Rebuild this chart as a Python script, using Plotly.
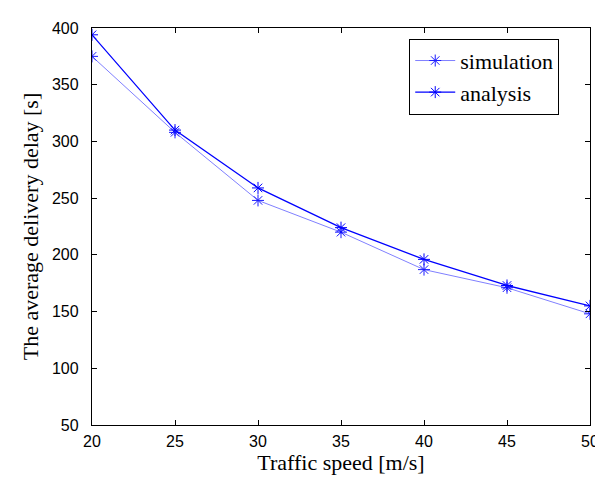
import plotly.graph_objects as go

speed = [20, 25, 30, 35, 40, 45, 50]
simulation = [375, 308, 248, 220, 187, 171, 148]
analysis = [394, 310, 259, 224, 196, 173, 155]

x_ticks = [20, 25, 30, 35, 40, 45, 50]
y_ticks = [50, 100, 150, 200, 250, 300, 350, 400]

fig = go.Figure()
fig.add_trace(go.Scatter(
    x=speed, y=simulation, name="simulation", mode="lines+markers",
    line=dict(color="#8080ff", width=1),
    marker=dict(symbol="asterisk-open", size=10, color="#1a1aff",
                line=dict(color="#1a1aff", width=1)),
))
fig.add_trace(go.Scatter(
    x=speed, y=analysis, name="analysis", mode="lines+markers",
    line=dict(color="#0000ff", width=1.3),
    marker=dict(symbol="asterisk-open", size=10, color="#0000ff",
                line=dict(color="#0000ff", width=1)),
))

axis_common = dict(
    showline=True, linecolor="black", linewidth=1.3, mirror="ticks",
    ticks="inside", ticklen=5, tickcolor="black", tickwidth=1,
    showgrid=False, zeroline=False,
    tickfont=dict(family="Liberation Sans, Arial", size=16, color="black"),
)

fig.update_layout(
    width=603, height=479,
    margin=dict(l=84, r=12, t=16, b=62),
    paper_bgcolor="white", plot_bgcolor="white",
    xaxis=dict(range=[20, 50], tickvals=x_ticks, ticklabelstandoff=2,
               title=dict(text="Traffic speed [m/s]", standoff=5,
                          font=dict(family="Liberation Serif, Times New Roman", size=22, color="black")),
               **axis_common),
    yaxis=dict(range=[50, 400], tickvals=y_ticks, ticklabelstandoff=9,
               title=dict(text="The average delivery delay [s]", standoff=7,
                          font=dict(family="Liberation Serif, Times New Roman", size=22, color="black")),
               **axis_common),
    legend=dict(x=0.637, y=0.973, xanchor="left", yanchor="top",
                bordercolor="black", borderwidth=1, bgcolor="white",
                font=dict(family="Liberation Serif, Times New Roman", size=22, color="black"),
                itemwidth=40, tracegroupgap=0),
    showlegend=True,
)

fig.write_html("out.html")
